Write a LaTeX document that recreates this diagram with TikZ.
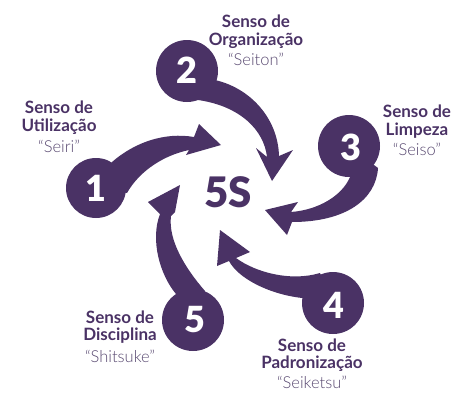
\documentclass[tikz,border=0pt]{standalone}
\usepackage{fontspec}
\setmainfont{Lato}
\IfFontExistsTF{Lato Black}{\newfontfamily\heavyfont{Lato Black}}{\newfontfamily\heavyfont{Lato}[UprightFeatures={FakeBold=1.5}]}
\IfFontExistsTF{Lato Light}{\newfontfamily\lightfont{Lato Light}}{\newfontfamily\lightfont{Lato}}
\definecolor{pp}{HTML}{4A3265}
\definecolor{qq}{HTML}{584870}
\begin{document}
\begin{tikzpicture}[x=1pt,y=-1pt,
  shape5/.style={fill=pp},
  num/.style={text=white,font=\fontsize{36}{36}\selectfont\heavyfont,anchor=center,inner sep=0pt},
  ttl/.style={text=pp,font=\fontsize{17}{18}\selectfont\bfseries,anchor=base,inner sep=0pt},
  jp/.style={text=qq,font=\fontsize{16.5}{18}\selectfont\lightfont,anchor=base,inner sep=0pt}]
\useasboundingbox (0,0) rectangle (474,410);
% circles
\fill[shape5] (96,188) circle (30);
\fill[shape5] (187,71) circle (31);
\fill[shape5] (349,146) circle (31);
\fill[shape5] (333,303) circle (31);
\fill[shape5] (193,320) circle (31);
% tails with arrowheads
\fill[shape5] (96,188) -- (112,162) .. controls (135,142) and (165,132) .. (194,137)
  -- (199,124) -- (221,145) -- (186,155) -- (189,150)
  .. controls (165,155) and (140,170) .. (127,193) -- cycle;
\fill[shape5] (187,71) -- (215,80) .. controls (250,88) and (278,118) .. (279,156)
  -- (293,150) -- (272,181) -- (256,148) -- (267,157)
  .. controls (264,130) and (240,106) .. (198,100) -- cycle;
\fill[shape5] (349,146) -- (378,168) .. controls (376,200) and (345,222) .. (292,222)
  -- (287,235) -- (265,210) -- (298,202) -- (291,212)
  .. controls (318,210) and (342,196) .. (350,177) -- cycle;
\fill[shape5] (333,303) -- (320,273) .. controls (290,282) and (255,272) .. (236,258)
  -- (250,252) -- (220,230) -- (217,266) -- (229,261)
  .. controls (238,278) and (268,294) .. (302,298) -- cycle;
\fill[shape5] (193,320) -- (176,294) .. controls (160,275) and (150,240) .. (160,214)
  -- (148,202) -- (180,185) -- (175,212) -- (171,216)
  .. controls (168,240) and (185,268) .. (205,291) -- cycle;
% numbers
\node[num] (n1) at (96,188) {1};
\node[num] (n2) at (187,70) {2};
\node[num] (n3) at (351,147) {3};
\node[num] (n4) at (334,305) {4};
\node[num] (n5) at (195,320) {5};
\node[text=pp,font=\fontsize{42}{42}\selectfont\heavyfont,inner sep=0pt] (c) at (228,192) {5S};
% labels
\node[ttl] (a1) at (59,113) {Senso de};
\node[ttl] (b1) at (59,131) {Utilização};
\node[jp] (c1) at (59,152) {“Seiri”};
\node[ttl] (a2) at (256,27) {Senso de};
\node[ttl] (b2) at (256,45) {Organização};
\node[jp] (c2) at (256,65) {“Seiton”};
\node[ttl] (a3) at (417,117) {Senso de};
\node[ttl] (b3) at (417,135) {Limpeza};
\node[jp] (c3) at (417,155) {“Seiso”};
\node[ttl] (a4) at (312,351) {Senso de};
\node[ttl] (b4) at (312,368) {Padronização};
\node[jp] (c4) at (312,388) {“Seiketsu”};
\node[ttl] (a5) at (120,323) {Senso de};
\node[ttl] (b5) at (120,340) {Disciplina};
\node[jp] (c5) at (120,362) {“Shitsuke”};
\end{tikzpicture}
\end{document}
